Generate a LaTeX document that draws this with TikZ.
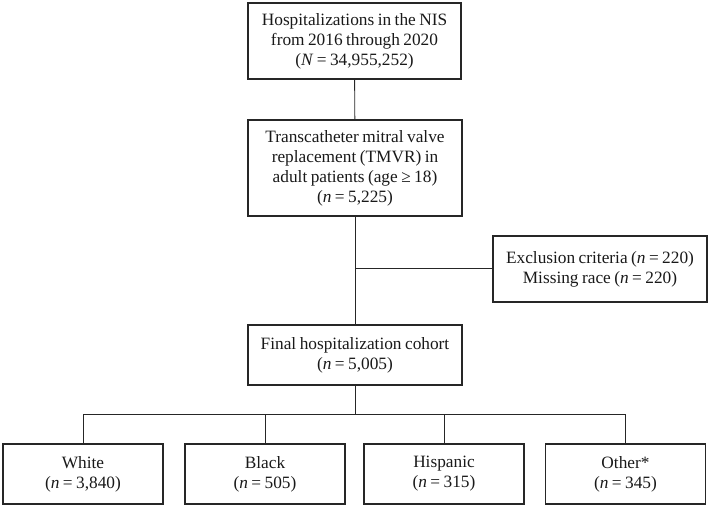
\documentclass[tikz,border=0pt]{standalone}
\usepackage{fontspec}
\setmainfont{Liberation Serif}[WordSpace=0.8]
\tikzset{
  box/.style={draw=black!85, line width=1.1pt, align=center, inner sep=0pt,
    font=\fontsize{17.3}{20}\selectfont, text=black!90},
  link/.style={draw=black!85, line width=0.9pt}
}
\begin{document}
\begin{tikzpicture}[x=1pt, y=-1pt]
      \useasboundingbox (0,0) rectangle (709,508);
      \draw
        (354.5,41) node[box, minimum width=213pt, minimum height=76pt] (hosp)
          {Hospitalizations in the NIS\\from 2016 through 2020\\(\textit{N} = 34,955,252)}
        (355,168) node[box, minimum width=214pt, minimum height=96pt] (tmvr)
          {Transcatheter mitral valve\\replacement (TMVR) in\\adult patients (age ≥ 18)\\(\textit{n} = 5,225)}
        (600,269) node[box, minimum width=214pt, minimum height=66pt] (excl)
          {Exclusion criteria (\textit{n} = 220)\\Missing race (\textit{n} = 220)}
        (355,355) node[box, minimum width=214pt, minimum height=60pt] (final)
          {Final hospitalization cohort\\(\textit{n} = 5,005)}
        (83,474) node[box, minimum width=160pt, minimum height=60pt] (white)
          {White\\(\textit{n} = 3,840)}
        (265,474) node[box, minimum width=160pt, minimum height=60pt] (black)
          {Black\\(\textit{n} = 505)}
        (444,474) node[box, minimum width=160pt, minimum height=60pt] (hisp)
          {Hispanic\\(\textit{n} = 315)}
        (625.5,474) node[box, minimum width=160pt, minimum height=60pt] (other)
          {Other*\\(\textit{n} = 345)};
      \coordinate (split) at (355,268);
      \coordinate (fork) at (355,414);
      \begin{scope}[link]
        \draw (hosp) to (tmvr);
        \draw (tmvr) to (final);
        \draw (split) to (split -| excl.west);
        \draw (final) to (fork);
        \draw (fork) -| (white.north);
        \draw (fork) -| (black.north);
        \draw (fork) -| (hisp.north);
        \draw (fork) -| (other.north);
      \end{scope}
    \end{tikzpicture}
\end{document}
